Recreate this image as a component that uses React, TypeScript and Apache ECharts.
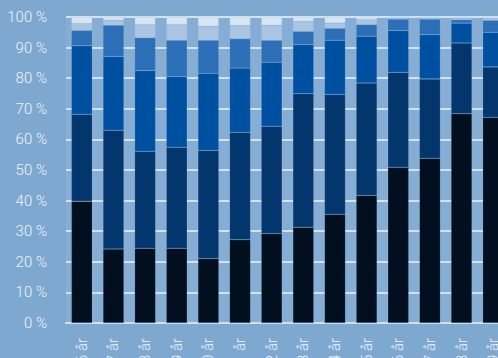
import React, { useEffect, useRef } from "react";
import * as echarts from "echarts";

const categories = ["6 år", "7 år", "8 år", "9 år", "10 år", "11 år", "12 år", "13 år", "14 år", "15 år", "16 år", "17 år", "18 år", "19 år"];

const seriesA = [39.8, 24.2, 24.4, 24.4, 21.1, 27.2, 29.2, 31.3, 35.5, 41.7, 50.9, 53.8, 68.4, 67.2];
const seriesB = [28.4, 38.8, 31.7, 33.0, 35.3, 35.1, 35.1, 43.6, 39.2, 36.7, 31.0, 25.9, 23.1, 16.5];
const seriesC = [22.4, 24.1, 26.4, 23.1, 25.2, 21.0, 20.9, 16.1, 17.7, 15.3, 13.7, 14.5, 6.5, 11.3];
const seriesD = [5.0, 10.2, 10.7, 11.9, 10.8, 9.6, 7.2, 4.3, 3.9, 3.8, 3.7, 5.1, 1.1, 3.9];
const seriesE = [2.2, 1.6, 4.3, 5.1, 4.6, 4.3, 4.9, 3.2, 1.7, 1.6, 0.4, 0.4, 0.5, 0.6];
const seriesF = [2.2, 1.1, 2.5, 2.5, 3.0, 2.8, 2.7, 1.5, 2.0, 0.9, 0.3, 0.3, 0.4, 0.5];

const yTicks = [0, 10, 20, 30, 40, 50, 60, 70, 80, 90, 100];

const colors = ["#010f1f", "#03366c", "#0050a2", "#2c6fb6", "#a9c5e2", "#d7e4f2"];

export default function App() {
  const ref = useRef<HTMLDivElement>(null);

  useEffect(() => {
    if (!ref.current) return;
    const chart = echarts.init(ref.current, undefined, { renderer: "svg" });
    const font = "Roboto, 'DejaVu Sans Condensed', sans-serif";
    const all = [seriesA, seriesB, seriesC, seriesD, seriesE, seriesF];
    chart.setOption({
      animation: false,
      backgroundColor: "#7fa8d0",
      grid: {
        left: 66,
        top: 17,
        width: 443,
        height: 306,
        show: true,
        backgroundColor: "#86aed5",
        borderWidth: 0,
      },
      xAxis: {
        type: "category",
        data: categories,
        axisLine: { show: true, lineStyle: { color: "#cfe0f1", width: 2 } },
        axisTick: { show: false },
        axisLabel: {
          rotate: 90,
          margin: 15,
          color: "#eef4fa",
          fontFamily: font,
          fontWeight: 300,
          fontSize: 15,
        },
      },
      yAxis: {
        type: "value",
        min: yTicks[0],
        max: yTicks[yTicks.length - 1],
        interval: 10,
        axisLine: { show: false },
        axisTick: { show: false },
        splitLine: { show: true, lineStyle: { color: "#d2e2f2", width: 2 } },
        axisLabel: {
          margin: 19,
          color: "#eef4fa",
          fontFamily: font,
          fontWeight: 300,
          fontSize: 15,
          formatter: (v: number) => `${v} %`,
        },
      },
      series: all.map((d, i) => ({
        type: "bar",
        stack: "total",
        data: d,
        barCategoryGap: "34%",
        itemStyle: {
          color: colors[i],
          borderColor: "rgba(150,185,220,0.35)",
          borderWidth: 0.5,
        },
      })),
    });
    return () => chart.dispose();
  }, []);

  return (
    <div style={{ position: "fixed", left: 0, top: 0, width: 498, height: 358, overflow: "hidden" }}>
      <div ref={ref} style={{ width: 530, height: 380 }} />
    </div>
  );
}
